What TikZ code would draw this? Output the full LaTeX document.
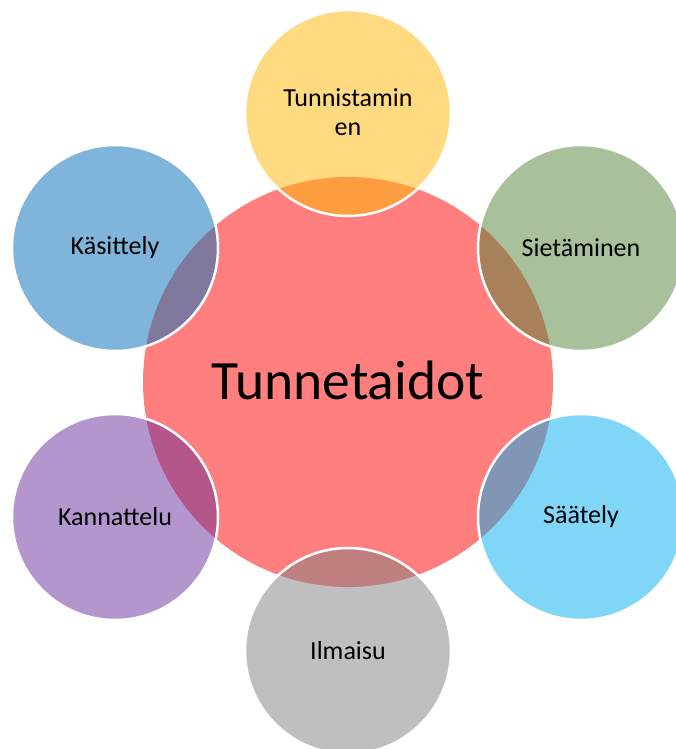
\documentclass[tikz,border=0pt]{standalone}
\usepackage{fontspec}
\setmainfont{Carlito}
\definecolor{cRed}{HTML}{FF7F7F}
\definecolor{cYel}{HTML}{FFDA80}
\definecolor{cYelO}{HTML}{FF9E40}
\definecolor{cGre}{HTML}{A9C19A}
\definecolor{cGreO}{HTML}{A8805A}
\definecolor{cBlu}{HTML}{7FB4DB}
\definecolor{cBluO}{HTML}{80789C}
\definecolor{cPur}{HTML}{B496CE}
\definecolor{cPurO}{HTML}{B4568A}
\definecolor{cLbl}{HTML}{80D6F6}
\definecolor{cLblO}{HTML}{8096B4}
\definecolor{cGra}{HTML}{BFBFBF}
\definecolor{cGraO}{HTML}{BF7F7F}
\tikzset{
  bigc/.style={circle, inner sep=0pt, minimum size=410pt},
  smallc/.style={circle, inner sep=0pt, minimum size=206pt},
  ring/.style={draw=white, line width=2.5pt},
  lbl/.style={font=\fontsize{26}{29}\selectfont, align=center, text=black},
}
\begin{document}
\begin{tikzpicture}[x=1pt,y=-1pt]
\useasboundingbox (0,0) rectangle (675,749);
% central circle
\node[bigc, fill=cRed] (core) at (348,382) {};
% satellites
\node[smallc, fill=cYel] (top) at (348,113) {};
\node[smallc, fill=cGre] (ur) at (581,248) {};
\node[smallc, fill=cBlu] (ul) at (115,248) {};
\node[smallc, fill=cLbl] (lr) at (581,517) {};
\node[smallc, fill=cPur] (ll) at (115,517) {};
\node[smallc, fill=cGra] (bot) at (348,651) {};
% overlaps
\begin{scope}
  \clip (348,382) circle (205);
  \fill[cYelO] (348,113) circle (103);
  \fill[cGreO] (581,248) circle (103);
  \fill[cBluO] (115,248) circle (103);
  \fill[cLblO] (581,517) circle (103);
  \fill[cPurO] (115,517) circle (103);
  \fill[cGraO] (348,651) circle (103);
\end{scope}
% white outlines
\foreach \n in {top,ur,ul,lr,ll,bot} {
  \draw[ring] (\n.center) circle (103);
}
% labels
\node[font=\fontsize{55.5}{60}\selectfont] at (348,380) {Tunnetaidot};
\node[lbl] at (348,112) {Tunnistamin\\en};
\node[lbl] at (ur.center) {Sietäminen};
\node[lbl] at (ul.center) {Käsittely};
\node[lbl] at (lr.center) {Säätely};
\node[lbl] at (ll.center) {Kannattelu};
\node[lbl] at (bot.center) {Ilmaisu};
\end{tikzpicture}
\end{document}
